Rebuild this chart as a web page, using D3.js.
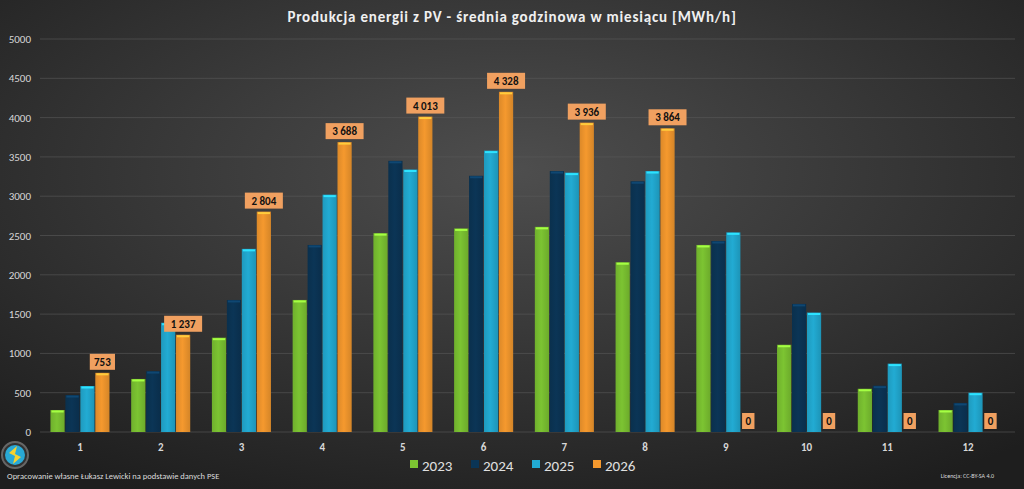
<!DOCTYPE html>
<html><head><meta charset="utf-8">
<script src="https://cdn.jsdelivr.net/npm/d3@7"></script>
<style>body{margin:0;background:#222}svg{display:block;font-family:Calibri,'Liberation Sans',sans-serif}</style>
</head><body><div id="chart"></div>
<script>
// data
const months = ['1','2','3','4','5','6','7','8','9','10','11','12']
const years = ['2023','2024','2025','2026']
const v2023 = [280, 675, 1200, 1680, 2530, 2590, 2610, 2160, 2380, 1110, 550, 280]
const v2024 = [470, 775, 1680, 2380, 3450, 3260, 3320, 3190, 2430, 1630, 590, 370]
const v2025 = [585, 1390, 2330, 3020, 3340, 3580, 3300, 3320, 2540, 1520, 870, 500]
const v2026 = [753, 1237, 2804, 3688, 4013, 4328, 3936, 3864, 0, 0, 0, 0]
const yTicks = [0, 500, 1000, 1500, 2000, 2500, 3000, 3500, 4000, 4500, 5000]
const colors = ['#7cc432', '#0b3556', '#22abd3', '#f5992e']

const W = 1024, H = 489
const series = [v2023, v2024, v2025, v2026]
const svg = d3.select('#chart').append('svg').attr('width', W).attr('height', H)

const defs = svg.append('defs')
const bg = defs.append('radialGradient').attr('id', 'bg').attr('cx', '50%').attr('cy', '35%').attr('r', '75%')
bg.append('stop').attr('offset', '0%').attr('stop-color', '#4e4e4e')
bg.append('stop').attr('offset', '100%').attr('stop-color', '#1e1e1e')
svg.append('rect').attr('width', W).attr('height', H).attr('fill', 'url(#bg)')

// bar gradients to mimic the bevel look
colors.forEach((c, i) => {
  const g = defs.append('linearGradient').attr('id', 'g' + i)
  g.append('stop').attr('offset', '0%').attr('stop-color', d3.color(c).darker(0.3))
  g.append('stop').attr('offset', '45%').attr('stop-color', c)
  g.append('stop').attr('offset', '100%').attr('stop-color', d3.color(c).darker(0.4))
})

const x = d3.scaleBand().domain(months).range([40, 1008]).paddingInner(0.25).paddingOuter(0.12)
const xi = d3.scaleBand().domain(years).range([0, x.bandwidth()]).padding(0.05)
const y = d3.scaleLinear().domain([0, 5000]).range([432, 39])

svg.append('g').selectAll('line').data(yTicks).join('line')
  .attr('x1', 40).attr('x2', 1015).attr('y1', d => y(d)).attr('y2', d => y(d))
  .attr('stroke', '#5a5a5a').attr('stroke-opacity', 0.6)

svg.append('g').selectAll('text').data(yTicks).join('text')
  .attr('x', 31).attr('y', d => y(d) + 4).attr('text-anchor', 'end')
  .attr('fill', '#d8d8d8').attr('font-size', 11).text(d => d)

svg.append('g').selectAll('text').data(months).join('text')
  .attr('x', d => x(d) + x.bandwidth() / 2).attr('y', 451).attr('text-anchor', 'middle')
  .attr('fill', '#d8d8d8').attr('font-size', 11).attr('font-weight', 'bold').text(d => d)

series.forEach((vals, si) => {
  const g = svg.append('g')
  g.selectAll('rect').data(vals).join('rect')
    .attr('x', (d, i) => x(months[i]) + xi(years[si]))
    .attr('width', xi.bandwidth())
    .attr('y', d => y(d)).attr('height', d => y(0) - y(d))
    .attr('fill', `url(#g${si})`)
  g.selectAll('line').data(vals.map((d, i) => [d, i]).filter(d => d[0] > 0)).join('line')
    .attr('x1', d => x(months[d[1]]) + xi(years[si]) + 1)
    .attr('x2', d => x(months[d[1]]) + xi(years[si]) + xi.bandwidth() - 1)
    .attr('y1', d => y(d[0]) + 1.5).attr('y2', d => y(d[0]) + 1.5)
    .attr('stroke', d3.color(colors[si]).brighter(0.8)).attr('stroke-width', 2)
})

// 2026 data labels
const fmt = d => d3.format(',')(d).replace(/,/g, ' ')
const lab = svg.append('g').selectAll('g').data(v2026).join('g')
  .attr('transform', (d, i) => {
    const cx = x(months[i]) + xi('2026') + xi.bandwidth() / 2
    const cy = d > 0 ? y(d) - 11 : y(0) - 11
    return `translate(${cx},${cy})`
  })
lab.append('rect')
  .attr('x', d => -(fmt(d).length * 3.2 + 3)).attr('width', d => fmt(d).length * 6.4 + 6)
  .attr('y', -8).attr('height', 16).attr('fill', '#f0a060')
lab.append('text').attr('text-anchor', 'middle').attr('y', 4)
  .attr('font-size', 11).attr('font-weight', 'bold').attr('fill', '#111').text(fmt)

svg.append('text').attr('x', 512).attr('y', 22).attr('text-anchor', 'middle')
  .attr('fill', '#f0f0f0').attr('font-size', 15).attr('font-weight', 'bold').attr('letter-spacing', 0.8)
  .text('Produkcja energii z PV - średnia godzinowa w miesiącu [MWh/h]')

// legend
const leg = svg.append('g').selectAll('g').data(years).join('g')
  .attr('transform', (d, i) => `translate(${410 + i * 61},458)`)
leg.append('rect').attr('width', 8).attr('height', 8).attr('y', 2).attr('fill', (d, i) => colors[i])
leg.append('text').attr('x', 12).attr('y', 13).attr('fill', '#e0e0e0').attr('font-size', 15).text(d => d)

// logo + footer
const logo = svg.append('g').attr('transform', 'translate(15,455)')
logo.append('circle').attr('r', 13).attr('fill', '#333').attr('stroke', '#666').attr('stroke-width', 2)
logo.append('circle').attr('r', 10).attr('fill', '#29a9d6')
logo.append('path').attr('d', 'M-6,-2 L2,-9 L0,-1 L6,2 L-2,9 L0,1 Z').attr('fill', '#f5d22e')
svg.append('text').attr('x', 7).attr('y', 479).attr('fill', '#dcdcdc').attr('font-size', 8.5)
  .text('Opracowanie własne Łukasz Lewicki na podstawie danych PSE')
svg.append('text').attr('x', 994).attr('y', 478).attr('text-anchor', 'end').attr('fill', '#dcdcdc')
  .attr('font-size', 6).text('Licencja: CC-BY-SA 4.0')
</script></body></html>
